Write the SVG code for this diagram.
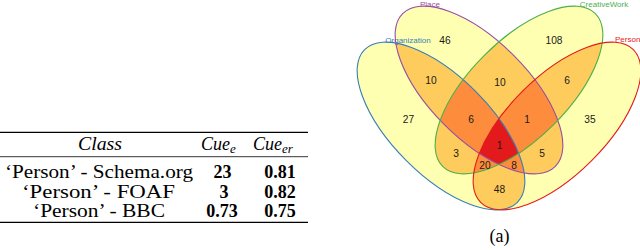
<svg xmlns="http://www.w3.org/2000/svg" xmlns:xlink="http://www.w3.org/1999/xlink" width="640" height="250" viewBox="0 0 640 250">
<style>
.tx{font-family:"Liberation Serif","Times New Roman",serif;font-size:18px;fill:#000}
.it{font-style:italic}
.bd{font-weight:bold}
.num{font-family:"Liberation Sans",Arial,Helvetica,sans-serif;font-size:10.2px;fill:#1a1a1a;text-anchor:middle}
.lab{font-family:"Liberation Sans",Arial,Helvetica,sans-serif;font-size:8px}
.f1{fill:#FFFFB2}
.f2{fill:#FECC5C}
.f3{fill:#FD8D3C}
.f4{fill:#E31A1C}
.edge{fill:none;stroke-width:1.1}
.rule{stroke:#000}
</style>
<defs>
<ellipse id="eO" cx="0" cy="0" rx="108" ry="49" transform="translate(441,126) rotate(45)"/>
<ellipse id="eP" cx="0" cy="0" rx="108" ry="49" transform="translate(479,90) rotate(45)"/>
<ellipse id="eW" cx="0" cy="0" rx="108" ry="49" transform="translate(519,90) rotate(-45)"/>
<ellipse id="eR" cx="0" cy="0" rx="108" ry="49" transform="translate(557,126) rotate(-45)"/>
<clipPath id="cO"><use href="#eO"/></clipPath>
<clipPath id="cP"><use href="#eP"/></clipPath>
<clipPath id="cW"><use href="#eW"/></clipPath>
<clipPath id="cR"><use href="#eR"/></clipPath>
</defs>
<rect width="640" height="250" fill="#fff"/>

<g id="table">
<line class="rule" x1="0" y1="132.3" x2="308" y2="132.3" stroke-width="1.3"/>
<line class="rule" x1="0" y1="156.7" x2="308" y2="156.7" stroke-width="0.8"/>
<line class="rule" x1="0" y1="222.3" x2="308" y2="222.3" stroke-width="1.3"/>
<text class="tx it" x="78" y="150" textLength="44" lengthAdjust="spacingAndGlyphs">Class</text>
<text class="tx it" x="201" y="150">Cue<tspan font-size="13" dy="3">e</tspan></text>
<text class="tx it" x="253" y="150">Cue<tspan font-size="13" dy="3">er</tspan></text>
<text class="tx" x="5" y="178.3" textLength="188" lengthAdjust="spacingAndGlyphs">‘Person’ - Schema.org</text>
<text class="tx" x="22" y="197.8" textLength="153" lengthAdjust="spacingAndGlyphs">‘Person’ - FOAF</text>
<text class="tx" x="33" y="217.3" textLength="132" lengthAdjust="spacingAndGlyphs">‘Person’ - BBC</text>
<text class="tx bd" x="222.5" y="178.3" text-anchor="middle">23</text>
<text class="tx bd" x="224" y="197.8" text-anchor="middle">3</text>
<text class="tx bd" x="222" y="217.3" text-anchor="middle">0.73</text>
<text class="tx bd" x="280" y="178.3" text-anchor="middle">0.81</text>
<text class="tx bd" x="280" y="197.8" text-anchor="middle">0.82</text>
<text class="tx bd" x="280" y="217.3" text-anchor="middle">0.75</text>
</g>

<g id="venn-fills">
<g class="f1"><use href="#eO"/><use href="#eP"/><use href="#eW"/><use href="#eR"/></g>
<g class="f2">
<g clip-path="url(#cO)"><use href="#eP"/><use href="#eW"/><use href="#eR"/></g>
<g clip-path="url(#cP)"><use href="#eW"/><use href="#eR"/></g>
<g clip-path="url(#cW)"><use href="#eR"/></g>
</g>
<g class="f3">
<g clip-path="url(#cO)"><g clip-path="url(#cP)"><use href="#eW"/><use href="#eR"/></g><g clip-path="url(#cW)"><use href="#eR"/></g></g>
<g clip-path="url(#cP)"><g clip-path="url(#cW)"><use href="#eR"/></g></g>
</g>
<g class="f4"><g clip-path="url(#cO)"><g clip-path="url(#cP)"><g clip-path="url(#cW)"><use href="#eR"/></g></g></g></g>
</g>

<g id="set-organization"><use href="#eO" class="edge" stroke="#377EB8"/><text class="lab" x="408" y="43" text-anchor="middle" fill="#377EB8">Organization</text></g>
<g id="set-place"><use href="#eP" class="edge" stroke="#984EA3"/><text class="lab" x="430" y="7" text-anchor="middle" fill="#984EA3">Place</text></g>
<g id="set-creativework"><use href="#eW" class="edge" stroke="#4DAF4A"/><text class="lab" x="604" y="7" text-anchor="middle" fill="#4DAF4A">CreativeWork</text></g>
<g id="set-person"><use href="#eR" class="edge" stroke="#E41A1C"/><text class="lab" x="615" y="42" fill="#E41A1C">Person</text></g>

<g id="counts">
<text class="num" x="445" y="44">46</text>
<text class="num" x="554" y="44">108</text>
<text class="num" x="431" y="84">10</text>
<text class="num" x="500" y="86">10</text>
<text class="num" x="567" y="84">6</text>
<text class="num" x="408.5" y="123">27</text>
<text class="num" x="471" y="123">6</text>
<text class="num" x="527" y="123">1</text>
<text class="num" x="590" y="123">35</text>
<text class="num" x="456" y="157">3</text>
<text class="num" x="499.5" y="149">1</text>
<text class="num" x="542" y="157">5</text>
<text class="num" x="485" y="169">20</text>
<text class="num" x="514" y="169">8</text>
<text class="num" x="499.5" y="193">48</text>
</g>

<text class="tx" x="499.5" y="242" text-anchor="middle" font-size="19">(a)</text>
</svg>
